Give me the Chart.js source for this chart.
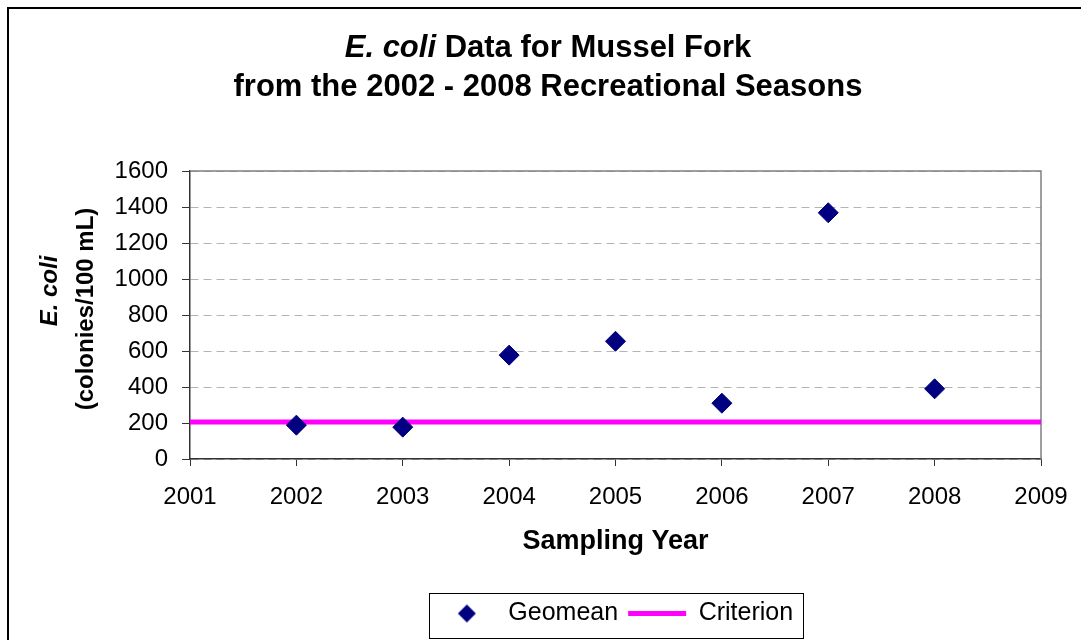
<!DOCTYPE html>
<html>
<head>
<meta charset="utf-8">
<title>E. coli Data for Mussel Fork</title>
<script src="https://cdn.jsdelivr.net/npm/chart.js@4.4.1/dist/chart.umd.min.js"></script>
<style>
    html, body { margin: 0; padding: 0; background: #fff; }
    #wrap { width: 1081px; height: 640px; position: relative; }
</style>
</head>
<body>
<div id="wrap"><canvas id="chart" width="1081" height="640"></canvas></div>
<script>
// Sampling years and geometric means
const years = [2002, 2003, 2004, 2005, 2006, 2007, 2008];
const geomean = [188, 177, 577, 654, 310, 1368, 390];

// Criterion line (runs across the whole x range)
const criterionYears = [2001, 2009];
const criterionValues = [206, 206];

// Axis ranges / ticks
const xRange = [2001, 2009];
const yRange = [0, 1600];
const yStep = 200;

const FONT = "'Liberation Sans', Arial, sans-serif";
const NAVY = "#000080";
const MAGENTA = "#FF00FF";

// small diamond used as the legend symbol for Geomean
const diamondIcon = document.createElement("canvas");
diamondIcon.width = 20;
diamondIcon.height = 20;
(function () {
    const c = diamondIcon.getContext("2d");
    c.fillStyle = NAVY;
    c.beginPath();
    c.moveTo(10, 1);
    c.lineTo(19, 10);
    c.lineTo(10, 19);
    c.lineTo(1, 10);
    c.closePath();
    c.fill();
})();

// outer frame + plot frame (top/right edges are grey)
const framePlugin = {
    id: "frame",
    beforeDraw(chart) {
        const ctx = chart.ctx;
        ctx.save();
        ctx.fillStyle = "#fff";
        ctx.fillRect(0, 0, chart.width, chart.height);
        ctx.strokeStyle = "#000";
        ctx.lineWidth = 2;
        ctx.beginPath();
        ctx.moveTo(8, chart.height + 5);
        ctx.lineTo(8, 8);
        ctx.lineTo(chart.width + 5, 8);
        ctx.stroke();
        ctx.restore();
    },
    beforeDatasetsDraw(chart) {
        const a = chart.chartArea;
        const ctx = chart.ctx;
        ctx.save();
        ctx.strokeStyle = "#808080";
        ctx.lineWidth = 1.5;
        ctx.beginPath();
        ctx.moveTo(a.left, a.top);
        ctx.lineTo(a.right, a.top);
        ctx.lineTo(a.right, a.bottom);
        ctx.stroke();
        ctx.restore();
    }
};

// titles with the italic "E. coli" parts
const titlePlugin = {
    id: "titles",
    afterDraw(chart) {
        const ctx = chart.ctx;
        ctx.save();
        ctx.fillStyle = "#000";
        ctx.textBaseline = "middle";

        const cx = 548;
        const part1 = "E. coli";
        const part2 = " Data for Mussel Fork";
        ctx.font = "italic bold 31px " + FONT;
        const w1 = ctx.measureText(part1).width;
        ctx.font = "bold 31px " + FONT;
        const w2 = ctx.measureText(part2).width;
        const x0 = cx - (w1 + w2) / 2;
        ctx.textAlign = "left";
        ctx.font = "italic bold 31px " + FONT;
        ctx.fillText(part1, x0, 48);
        ctx.font = "bold 31px " + FONT;
        ctx.fillText(part2, x0 + w1, 48);
        ctx.textAlign = "center";
        ctx.fillText("from the 2002 - 2008 Recreational Seasons", cx, 87);

        // y axis title, two rotated lines
        ctx.save();
        ctx.translate(50, 291);
        ctx.rotate(-Math.PI / 2);
        ctx.font = "italic bold 24px " + FONT;
        ctx.fillText("E. coli", 0, 0);
        ctx.restore();

        ctx.save();
        ctx.translate(86, 309);
        ctx.rotate(-Math.PI / 2);
        ctx.font = "bold 24px " + FONT;
        ctx.fillText("(colonies/100 mL)", 0, 0);
        ctx.restore();

        ctx.restore();
    }
};

// box round the legend
const legendBoxPlugin = {
    id: "legendBox",
    afterDraw(chart) {
        const boxes = chart.legend && chart.legend.legendHitBoxes;
        if (!boxes || !boxes.length) return;
        let l = Infinity, r = -Infinity, t = Infinity, b = -Infinity;
        boxes.forEach(h => {
            l = Math.min(l, h.left);
            r = Math.max(r, h.left + h.width);
            t = Math.min(t, h.top);
            b = Math.max(b, h.top + h.height);
        });
        const ctx = chart.ctx;
        ctx.save();
        ctx.strokeStyle = "#000";
        ctx.lineWidth = 1;
        ctx.strokeRect(Math.round(l - 9) + 0.5, Math.round(t - 8) + 0.5, Math.round(r - l + 19), Math.round(b - t + 20));
        ctx.restore();
    }
};

const ctx = document.getElementById("chart").getContext("2d");

new Chart(ctx, {
    type: "scatter",
    data: {
        datasets: [
            {
                label: "Geomean",
                data: years.map((y, i) => ({ x: y, y: geomean[i] })),
                pointStyle: "rectRot",
                pointRadius: 10,
                pointHoverRadius: 10,
                backgroundColor: NAVY,
                borderColor: NAVY,
                borderWidth: 1,
                showLine: false
            },
            {
                label: "Criterion",
                type: "line",
                data: criterionYears.map((y, i) => ({ x: y, y: criterionValues[i] })),
                borderColor: MAGENTA,
                backgroundColor: MAGENTA,
                borderWidth: 5,
                pointRadius: 0,
                pointHoverRadius: 0,
                fill: false,
                tension: 0
            }
        ]
    },
    options: {
        responsive: false,
        animation: false,
        devicePixelRatio: 1,
        layout: {
            padding: { top: 171, left: 0, right: 40, bottom: 4 }
        },
        scales: {
            x: {
                type: "linear",
                min: xRange[0],
                max: xRange[1],
                afterFit: s => {
                    s.height = 132;
                    s.paddingLeft = 0;
                    s.paddingRight = 0;
                },
                ticks: {
                    stepSize: 1,
                    color: "#000",
                    padding: 17,
                    font: { family: FONT, size: 24 },
                    callback: v => String(v)
                },
                grid: {
                    drawOnChartArea: false,
                    drawTicks: true,
                    tickLength: 7,
                    tickColor: "#333",
                    color: "#333"
                },
                border: { display: true, color: "#333", width: 1.5 },
                title: {
                    display: true,
                    text: "Sampling Year",
                    color: "#000",
                    font: { family: FONT, size: 27, weight: "bold" },
                    padding: { top: 4, bottom: 33 }
                }
            },
            y: {
                min: yRange[0],
                max: yRange[1],
                afterFit: s => { s.width = 190; },
                ticks: {
                    stepSize: yStep,
                    color: "#000",
                    padding: 14,
                    font: { family: FONT, size: 24 },
                    callback: v => String(v)
                },
                grid: {
                    color: "#b4b4b4",
                    lineWidth: 1,
                    tickLength: 8,
                    tickColor: "#333"
                },
                border: { display: true, color: "#333", width: 1.5, dash: [8, 5] }
            }
        },
        plugins: {
            title: { display: false },
            tooltip: { enabled: false },
            legend: {
                position: "bottom",
                fullSize: false,
                labels: {
                    usePointStyle: true,
                    pointStyleWidth: 58,
                    boxHeight: 25,
                    padding: 10,
                    color: "#000",
                    font: { family: FONT, size: 25 },
                    generateLabels: chart => {
                        const items = Chart.defaults.plugins.legend.labels.generateLabels(chart);
                        items[0].pointStyle = diamondIcon;
                        items[1].pointStyle = "line";
                        items[1].lineWidth = 5;
                        items[1].strokeStyle = MAGENTA;
                        return items;
                    }
                }
            }
        }
    },
    plugins: [framePlugin, titlePlugin, legendBoxPlugin]
});
</script>
</body>
</html>
